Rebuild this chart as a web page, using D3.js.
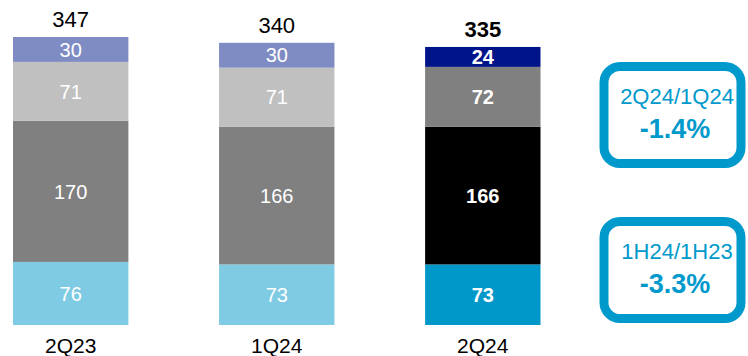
<!DOCTYPE html>
<html>
<head>
<meta charset="utf-8">
<script src="https://cdn.jsdelivr.net/npm/d3@7"></script>
<style>
  html, body { margin: 0; padding: 0; background: #fff; }
  svg { display: block; font-family: "Liberation Sans", Arial, sans-serif; }
</style>
</head>
<body>
<div id="chart"></div>
<script>
const categories = ["2Q23", "1Q24", "2Q24"];
const seriesKeys = ["s1", "s2", "s3", "s4"];   // bottom -> top
const s1 = [76, 73, 73];
const s2 = [170, 166, 166];
const s3 = [71, 71, 72];
const s4 = [30, 30, 24];
const totals = [347, 340, 335];

const callLabels = ["2Q24/1Q24", "1H24/1H23"];
const callValues = ["-1.4%", "-3.3%"];

const normalColors = { s1: "#7fcbe4", s2: "#808080", s3: "#c0c0c0", s4: "#7f8cc4" };
const currentColors = { s1: "#0098c8", s2: "#000000", s3: "#808080", s4: "#00148a" };
const boxColor = "#0099cc";

const width = 748, height = 356;

const rows = categories.map((c, i) => ({ cat: c, s1: s1[i], s2: s2[i], s3: s3[i], s4: s4[i], total: totals[i] }));
const stacked = d3.stack().keys(seriesKeys)(rows);

const x = d3.scaleBand()
    .domain(categories)
    .range([13, 540.5])
    .paddingInner(0.44)
    .paddingOuter(0);

const y = d3.scaleLinear()
    .domain([0, 347])
    .range([325, 37]);

const isCurrent = cat => cat === categories[categories.length - 1];

const svg = d3.select("#chart").append("svg")
    .attr("width", width)
    .attr("height", height);

// segments
const layer = svg.selectAll(".layer")
    .data(stacked)
    .enter().append("g")
    .attr("class", "layer");

layer.selectAll("rect")
    .data(s => s.map(d => ({ key: s.key, d })))
    .enter().append("rect")
    .attr("x", e => x(e.d.data.cat))
    .attr("y", e => y(e.d[1]))
    .attr("width", x.bandwidth())
    .attr("height", e => y(e.d[0]) - y(e.d[1]))
    .attr("fill", e => isCurrent(e.d.data.cat) ? currentColors[e.key] : normalColors[e.key]);

layer.selectAll("text")
    .data(s => s.map(d => ({ key: s.key, d })))
    .enter().append("text")
    .attr("x", e => x(e.d.data.cat) + x.bandwidth() / 2)
    .attr("y", e => (y(e.d[0]) + y(e.d[1])) / 2)
    .attr("dy", "0.36em")
    .attr("text-anchor", "middle")
    .attr("fill", "#fff")
    .style("font-size", "20px")
    .style("font-weight", e => isCurrent(e.d.data.cat) ? "bold" : "normal")
    .text(e => e.d[1] - e.d[0]);

// totals
svg.selectAll(".total")
    .data(rows)
    .enter().append("text")
    .attr("class", "total")
    .attr("x", d => x(d.cat) + x.bandwidth() / 2)
    .attr("y", d => y(d.total) - 10)
    .attr("text-anchor", "middle")
    .attr("fill", "#000")
    .style("font-size", "22px")
    .style("font-weight", d => isCurrent(d.cat) ? "bold" : "normal")
    .text(d => d.total);

// category labels
svg.selectAll(".cat")
    .data(categories)
    .enter().append("text")
    .attr("class", "cat")
    .attr("x", d => x(d) + x.bandwidth() / 2)
    .attr("y", 353)
    .attr("text-anchor", "middle")
    .attr("fill", "#000")
    .style("font-size", "21px")
    .text(d => d);

// callout boxes
const boxTops = [62, 217];
const box = svg.selectAll(".callout")
    .data(callLabels.map((l, i) => ({ label: l, value: callValues[i], top: boxTops[i] })))
    .enter().append("g")
    .attr("class", "callout");

box.append("rect")
    .attr("x", 604)
    .attr("y", d => d.top + 4.5)
    .attr("width", 137)
    .attr("height", 97)
    .attr("rx", 16)
    .attr("fill", "#fff")
    .attr("stroke", boxColor)
    .attr("stroke-width", 9);

box.append("text")
    .attr("x", 677)
    .attr("y", d => d.top + 42)
    .attr("text-anchor", "middle")
    .attr("fill", boxColor)
    .style("font-size", "22px")
    .text(d => d.label);

box.append("text")
    .attr("x", 675)
    .attr("y", d => d.top + 76)
    .attr("text-anchor", "middle")
    .attr("fill", boxColor)
    .style("font-size", "27px")
    .style("font-weight", "bold")
    .text(d => d.value);
</script>
</body>
</html>
